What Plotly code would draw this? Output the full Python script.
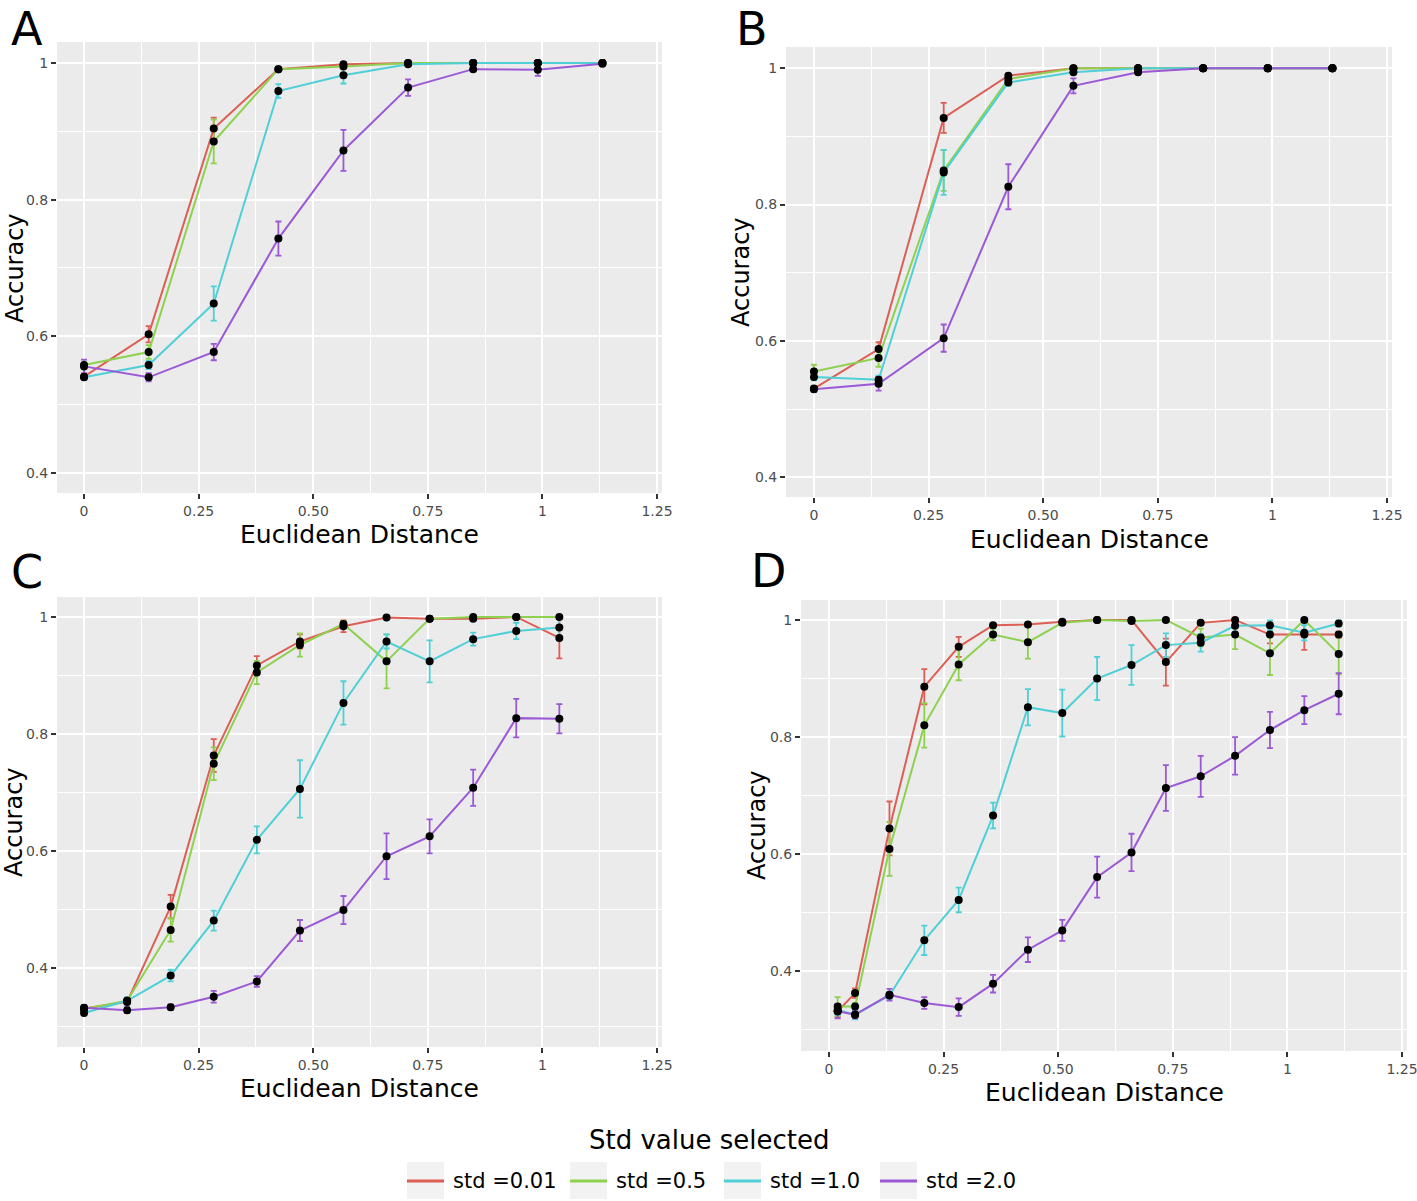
import plotly.graph_objects as go

W, H = 1417, 1201

SERIES = ["std =0.01", "std =0.5", "std =1.0", "std =2.0"]
COLORS = ["#dc5f55", "#8ed14f", "#4fcfd6", "#9b59d6"]

# --- panel A ---
XA = [0, 0.141, 0.283, 0.424, 0.566, 0.707, 0.849, 0.99, 1.131]
A_Y = [
    [0.541, 0.603, 0.904, 0.991, 0.998, 1.0, 1.0, 1.0, 1.0],
    [0.558, 0.577, 0.885, 0.991, 0.995, 1.0, 1.0, 1.0, 1.0],
    [0.540, 0.558, 0.648, 0.959, 0.982, 0.998, 1.0, 1.0, 1.0],
    [0.556, 0.540, 0.577, 0.743, 0.872, 0.964, 0.991, 0.990, 0.999],
]
A_E = [
    [0.004, 0.012, 0.016, 0.002, 0.002, 0.001, 0.001, 0.001, 0.001],
    [0.004, 0.010, 0.032, 0.002, 0.003, 0.001, 0.001, 0.001, 0.001],
    [0.004, 0.006, 0.025, 0.010, 0.012, 0.002, 0.001, 0.001, 0.001],
    [0.010, 0.006, 0.012, 0.025, 0.030, 0.012, 0.003, 0.009, 0.002],
]

# --- panel B ---
XB = [0, 0.141, 0.283, 0.424, 0.566, 0.707, 0.849, 0.99, 1.131]
B_Y = [
    [0.530, 0.588, 0.927, 0.989, 1.0, 1.0, 1.0, 1.0, 1.0],
    [0.555, 0.575, 0.850, 0.984, 1.0, 1.0, 1.0, 1.0, 1.0],
    [0.547, 0.543, 0.847, 0.979, 0.994, 1.0, 1.0, 1.0, 1.0],
    [0.529, 0.537, 0.604, 0.826, 0.974, 0.994, 1.0, 1.0, 1.0],
]
B_E = [
    [0.004, 0.010, 0.022, 0.003, 0.002, 0.001, 0.001, 0.001, 0.001],
    [0.010, 0.013, 0.030, 0.004, 0.002, 0.001, 0.001, 0.001, 0.001],
    [0.005, 0.006, 0.033, 0.005, 0.003, 0.001, 0.001, 0.001, 0.001],
    [0.004, 0.010, 0.020, 0.033, 0.011, 0.003, 0.001, 0.001, 0.001],
]

# --- panel C ---
XC = [0, 0.094, 0.189, 0.283, 0.377, 0.471, 0.566, 0.66, 0.754, 0.849, 0.943, 1.037]
C_Y = [
    [0.331, 0.342, 0.505, 0.763, 0.917, 0.958, 0.984, 0.999, 0.997, 0.997, 1.0, 0.964],
    [0.330, 0.344, 0.465, 0.749, 0.905, 0.952, 0.988, 0.924, 0.997, 1.0, 1.0, 1.0],
    [0.323, 0.344, 0.387, 0.481, 0.619, 0.706, 0.853, 0.958, 0.924, 0.962, 0.976, 0.982],
    [0.332, 0.328, 0.333, 0.351, 0.377, 0.464, 0.499, 0.591, 0.625, 0.708, 0.827, 0.826],
]
C_E = [
    [0.004, 0.004, 0.020, 0.028, 0.016, 0.012, 0.010, 0.002, 0.003, 0.003, 0.002, 0.035],
    [0.004, 0.004, 0.020, 0.028, 0.020, 0.020, 0.005, 0.046, 0.003, 0.002, 0.002, 0.002],
    [0.004, 0.006, 0.010, 0.017, 0.023, 0.049, 0.037, 0.012, 0.036, 0.011, 0.014, 0.016],
    [0.005, 0.005, 0.005, 0.010, 0.009, 0.018, 0.024, 0.039, 0.029, 0.031, 0.033, 0.025],
]

# --- panel D ---
XD = [0.019, 0.057, 0.132, 0.208, 0.283, 0.358, 0.434, 0.509, 0.585, 0.66, 0.735,
      0.811, 0.886, 0.962, 1.037, 1.112]
D_Y = [
    [0.332, 0.363, 0.644, 0.886, 0.954, 0.991, 0.992, 0.997, 1.0, 1.0, 0.928, 0.995,
     1.0, 0.975, 0.975, 0.975],
    [0.340, 0.340, 0.609, 0.820, 0.924, 0.975, 0.962, 0.995, 1.0, 0.998, 1.0, 0.970,
     0.975, 0.943, 1.0, 0.942],
    [0.334, 0.326, 0.359, 0.453, 0.522, 0.666, 0.851, 0.841, 0.900, 0.923, 0.957, 0.961,
     0.990, 0.991, 0.978, 0.994],
    [0.332, 0.326, 0.360, 0.346, 0.339, 0.379, 0.437, 0.470, 0.561, 0.603, 0.713, 0.733,
     0.768, 0.812, 0.846, 0.874],
]
D_E = [
    [0.010, 0.008, 0.046, 0.030, 0.017, 0.003, 0.003, 0.002, 0.003, 0.003, 0.040, 0.003,
     0.003, 0.015, 0.026, 0.005],
    [0.016, 0.006, 0.046, 0.038, 0.027, 0.010, 0.028, 0.003, 0.002, 0.003, 0.002, 0.015,
     0.025, 0.037, 0.003, 0.035],
    [0.008, 0.008, 0.006, 0.025, 0.021, 0.022, 0.031, 0.040, 0.037, 0.034, 0.020, 0.015,
     0.010, 0.008, 0.013, 0.005],
    [0.012, 0.006, 0.010, 0.010, 0.015, 0.015, 0.021, 0.018, 0.035, 0.032, 0.039, 0.035,
     0.032, 0.031, 0.024, 0.035],
]

X_TICKS = [0, 0.25, 0.5, 0.75, 1, 1.25]
X_TICKTEXT = ["0", "0.25", "0.50", "0.75", "1", "1.25"]
X_MINOR = [0.125, 0.375, 0.625, 0.875, 1.125]
Y_TICKS = [0.4, 0.6, 0.8, 1.0]
Y_TICKTEXT = ["0.4", "0.6", "0.8", "1"]
Y_MINOR = [0.3, 0.5, 0.7, 0.9]

FONT = "DejaVu Sans"

# panel pixel boxes: left, right, top, bottom, x-range, y-range
PANELS = [
    dict(name="A", x=XA, ys=A_Y, es=A_E, box=(57, 662, 42, 493),
         xr=[-0.059, 1.261], yr=[0.3707, 1.0307], letter=(27, 0),
         xt=(359, 534), yt=(15, 268)),
    dict(name="B", x=XB, ys=B_Y, es=B_E, box=(786, 1392, 47, 497),
         xr=[-0.061, 1.261], yr=[0.371, 1.031], letter=(752, 0),
         xt=(1089, 539), yt=(741, 272)),
    dict(name="C", x=XC, ys=C_Y, es=C_E, box=(57, 662, 597, 1047),
         xr=[-0.059, 1.261], yr=[0.265, 1.034], letter=(27, 543),
         xt=(359, 1088), yt=(14, 822)),
    dict(name="D", x=XD, ys=D_Y, es=D_E, box=(801, 1407, 600, 1051),
         xr=[-0.061, 1.261], yr=[0.2641, 1.034], letter=(768, 542),
         xt=(1104, 1092), yt=(757, 825)),
]


def px(x):
    return x / W


def py(y):
    return 1 - y / H


fig = go.Figure()
annotations = []
shapes = []

for i, p in enumerate(PANELS):
    n = "" if i == 0 else str(i + 1)
    xa, ya = "x" + n, "y" + n

    # error bars first
    for s in range(4):
        fig.add_trace(go.Scatter(
            x=p["x"], y=p["ys"][s], mode="markers", xaxis=xa, yaxis=ya,
            marker=dict(size=1, color="rgba(0,0,0,0)"),
            error_y=dict(type="data", array=p["es"][s], visible=True,
                         color=COLORS[s], thickness=1.8, width=3),
            showlegend=False, hoverinfo="skip",
        ))
    # lines
    for s in range(4):
        fig.add_trace(go.Scatter(
            x=p["x"], y=p["ys"][s], mode="lines", xaxis=xa, yaxis=ya,
            line=dict(color=COLORS[s], width=2),
            name=SERIES[s], showlegend=False,
        ))
    # points
    for s in range(4):
        fig.add_trace(go.Scatter(
            x=p["x"], y=p["ys"][s], mode="markers", xaxis=xa, yaxis=ya,
            marker=dict(size=8, color="black"),
            showlegend=False, hoverinfo="skip",
        ))

    l, r, t, b = p["box"]
    fig.update_layout(**{
        "xaxis" + n: dict(
            domain=[px(l), px(r)], range=p["xr"], anchor=ya,
            tickvals=X_TICKS, ticktext=X_TICKTEXT, ticklabeloverflow="allow",
            ticks="outside", ticklen=5, tickwidth=1.5, tickcolor="#333333",
            tickfont=dict(family=FONT, size=14, color="#4d4d4d"),
            showgrid=True, gridcolor="white", gridwidth=1.6,
            minor=dict(tickvals=X_MINOR, showgrid=True, gridcolor="white",
                       gridwidth=0.8, ticks=""),
            zeroline=False, showline=False,
        ),
        "yaxis" + n: dict(
            domain=[py(b), py(t)], range=p["yr"], anchor=xa,
            tickvals=Y_TICKS, ticktext=Y_TICKTEXT,
            ticks="outside", ticklen=5, tickwidth=1.5, tickcolor="#333333",
            tickfont=dict(family=FONT, size=14, color="#4d4d4d"),
            showgrid=True, gridcolor="white", gridwidth=1.6,
            minor=dict(tickvals=Y_MINOR, showgrid=True, gridcolor="white",
                       gridwidth=0.8, ticks=""),
            zeroline=False, showline=False,
        ),
    })
    shapes.append(dict(type="rect", xref="paper", yref="paper",
                       x0=px(l), x1=px(r), y0=py(b), y1=py(t),
                       fillcolor="#ebebeb", line=dict(width=0), layer="below"))

    annotations.append(dict(text=p["name"], x=px(p["letter"][0]), y=py(p["letter"][1]),
                            xref="paper", yref="paper", showarrow=False,
                            xanchor="center", yanchor="top",
                            font=dict(family=FONT, size=46, color="black")))
    annotations.append(dict(text="Euclidean Distance", x=px(p["xt"][0]), y=py(p["xt"][1]),
                            xref="paper", yref="paper", showarrow=False,
                            xanchor="center", yanchor="middle",
                            font=dict(family=FONT, size=25, color="black")))
    annotations.append(dict(text="Accuracy", x=px(p["yt"][0]), y=py(p["yt"][1]),
                            xref="paper", yref="paper", showarrow=False, textangle=-90,
                            xanchor="center", yanchor="middle",
                            font=dict(family=FONT, size=24, color="black")))

# legend drawn by hand to match ggplot key boxes
annotations.append(dict(text="Std value selected", x=px(709), y=py(1140),
                        xref="paper", yref="paper", showarrow=False,
                        xanchor="center", yanchor="middle",
                        font=dict(family=FONT, size=26, color="black")))
KEY_LEFT = [407, 570, 724, 880]
for s in range(4):
    k = KEY_LEFT[s]
    shapes.append(dict(type="rect", xref="paper", yref="paper",
                       x0=px(k), x1=px(k + 37), y0=py(1199), y1=py(1162),
                       fillcolor="#f2f2f2", line=dict(width=0)))
    shapes.append(dict(type="line", xref="paper", yref="paper",
                       x0=px(k), x1=px(k + 37), y0=py(1181), y1=py(1181),
                       line=dict(color=COLORS[s], width=3)))
    annotations.append(dict(text=SERIES[s], x=px(k + 44), y=py(1181),
                            xref="paper", yref="paper", showarrow=False,
                            xanchor="left", yanchor="middle",
                            font=dict(family=FONT, size=21, color="black")))

fig.update_layout(
    width=W, height=H, autosize=False,
    margin=dict(l=0, r=0, t=0, b=0, pad=0, autoexpand=False),
    paper_bgcolor="white", plot_bgcolor="#ebebeb",
    showlegend=False,
    shapes=shapes, annotations=annotations,
)

# drop the browser's default body margin and scrollbars so the figure sits at 0,0
fig.write_html("out.html", config={"displayModeBar": False, "responsive": False},
               post_script="document.documentElement.style.overflow='hidden';"
                           "document.body.style.margin='0';"
                           "document.body.style.overflow='hidden';")
